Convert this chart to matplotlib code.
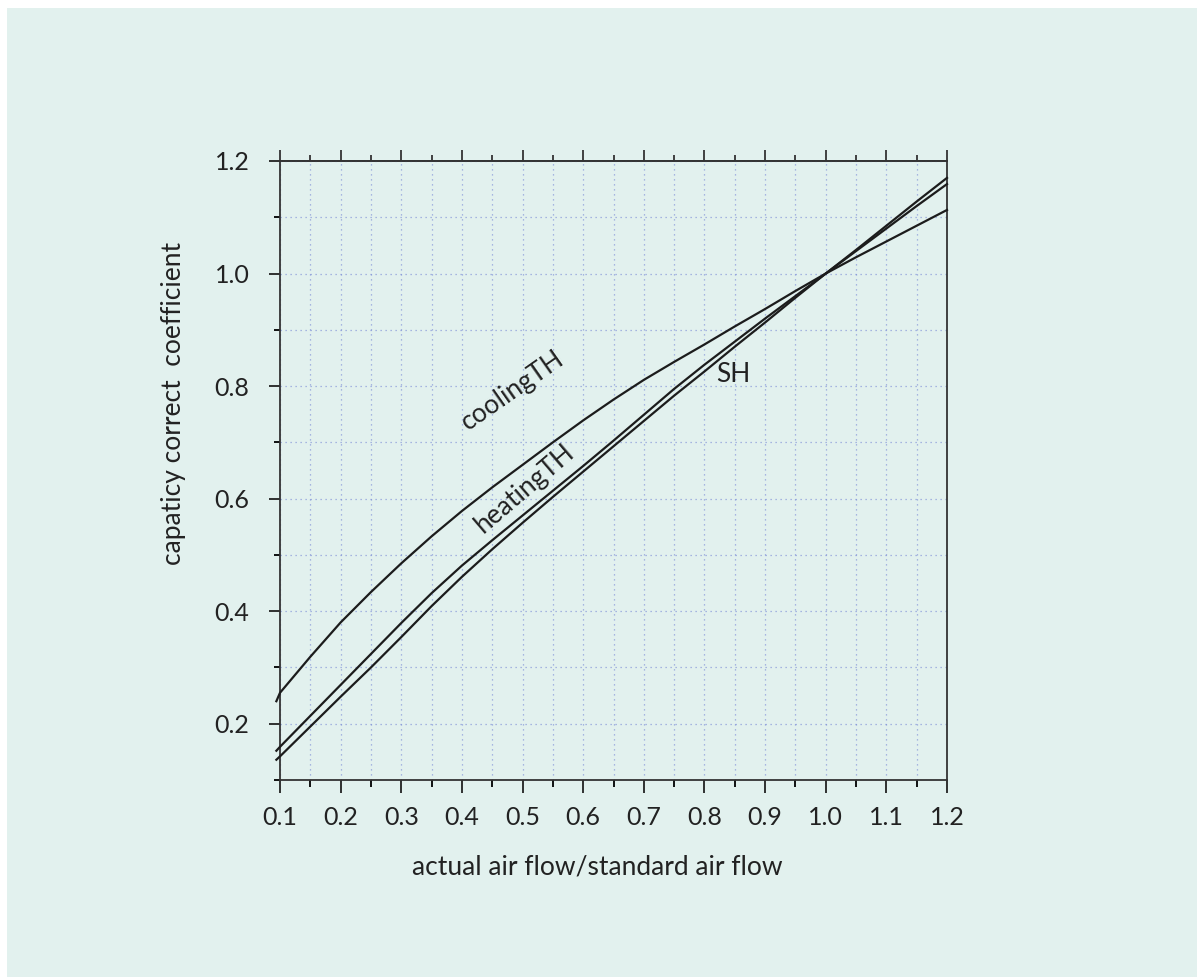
import numpy as np
import matplotlib as mpl
import matplotlib.pyplot as plt
from matplotlib.ticker import MultipleLocator

mpl.use("Agg")

# air flow ratio (actual / standard)
flow_ratio = [0.094, 0.10, 0.15, 0.20, 0.25, 0.30, 0.35, 0.40, 0.45, 0.50, 0.55, 0.60,
              0.65, 0.70, 0.75, 0.80, 0.85, 0.90, 0.95, 1.00, 1.05, 1.10, 1.15, 1.20]

# capacity correction coefficients
cooling_th = [0.240, 0.255, 0.319, 0.380, 0.434, 0.485, 0.533, 0.578, 0.620, 0.660, 0.700, 0.739,
              0.776, 0.811, 0.843, 0.874, 0.906, 0.937, 0.969, 1.000, 1.029, 1.057, 1.085, 1.113]
heating_th = [0.152, 0.159, 0.214, 0.269, 0.324, 0.379, 0.432, 0.481, 0.526, 0.570, 0.614, 0.658,
              0.703, 0.749, 0.795, 0.838, 0.879, 0.920, 0.960, 1.000, 1.040, 1.080, 1.120, 1.159]
sensible_h = [0.136, 0.142, 0.195, 0.248, 0.300, 0.354, 0.409, 0.461, 0.510, 0.557, 0.603, 0.648,
              0.693, 0.738, 0.783, 0.826, 0.870, 0.913, 0.957, 1.000, 1.042, 1.085, 1.128, 1.170]

x_ticks = [0.1, 0.2, 0.3, 0.4, 0.5, 0.6, 0.7, 0.8, 0.9, 1.0, 1.1, 1.2]
y_ticks = [0.2, 0.4, 0.6, 0.8, 1.0, 1.2]

bg = "#e2f1ee"
ink = "#222222"

plt.rcParams.update({"font.family": ["Lato", "DejaVu Sans"]})

fig = plt.figure(figsize=(11.97, 9.77), dpi=100)
fig.patch.set_facecolor("white")
fig.patches.append(
    mpl.patches.Rectangle(
        (7 / 1197, -0.05), 1.1, 1.05 - 8 / 977, transform=fig.transFigure,
        facecolor=bg, edgecolor="none", zorder=-5,
    )
)

ax = fig.add_axes([280 / 1197, 1 - 780 / 977, 667 / 1197, 619 / 977])
ax.set_facecolor(bg)

for series in (cooling_th, heating_th, sensible_h):
    ax.plot(flow_ratio, series, color="#1c1c1c", lw=1.6, clip_on=False, zorder=3,
            solid_joinstyle="round")

ax.set_xlim(0.1, 1.2)
ax.set_ylim(0.1, 1.2)

ax.set_xticks(x_ticks)
ax.set_xticklabels([f"{v:.1f}" for v in x_ticks])
ax.xaxis.set_minor_locator(MultipleLocator(0.05))
ax.set_yticks(y_ticks)
ax.set_yticklabels([f"{v:.1f}" for v in y_ticks])
ax.yaxis.set_minor_locator(MultipleLocator(0.1))

ax.tick_params(axis="x", which="major", direction="out", length=9.4, width=1.3,
               top=False, bottom=True, labelsize=18, pad=9, colors=ink)
ax.tick_params(axis="x", which="minor", direction="out", length=5, width=1.3,
               top=False, bottom=True)
ax.tick_params(axis="y", which="major", direction="out", length=8, width=1.3,
               left=True, right=False, labelsize=18, pad=14, colors=ink)
ax.tick_params(axis="y", which="minor", direction="out", length=4.3, width=1.3,
               left=True, right=False)

top = ax.secondary_xaxis("top")
top.set_xticks(x_ticks)
top.set_xticklabels([])
top.xaxis.set_minor_locator(MultipleLocator(0.05))
top.tick_params(which="major", direction="out", length=8, width=1.3, colors="#333333")
top.tick_params(which="minor", direction="out", length=4.3, width=1.3, colors="#333333")
top.spines["top"].set_linewidth(1.3)
top.spines["top"].set_color("#333333")

for side in ax.spines.values():
    side.set_linewidth(1.3)
    side.set_color("#333333")

ax.grid(which="both", axis="x", color="#7d8ed6", lw=0.9, ls=(0, (1, 3)), alpha=0.8)
ax.grid(which="both", axis="y", color="#7d8ed6", lw=0.9, ls=(0, (1, 3)), alpha=0.8)
ax.set_axisbelow(True)

ax.set_xlabel("actual air flow/standard air flow", fontsize=19, color=ink, va="top")
ax.xaxis.set_label_coords(0.475, -0.121)
ax.set_ylabel("capaticy correct  coefficient", fontsize=19, color=ink, va="center")
ax.yaxis.set_label_coords(-0.159, 0.609)

ax.text(0.483, 0.793, "coolingTH", rotation=35, fontsize=19, color=ink,
        ha="center", va="center", rotation_mode="anchor")
ax.text(0.503, 0.617, "heatingTH", rotation=40.6, fontsize=19, color=ink,
        ha="center", va="center", rotation_mode="anchor")
ax.text(0.847, 0.820, "SH", fontsize=19, color=ink, ha="center", va="center")

plt.savefig("out.png", dpi=100, facecolor=fig.get_facecolor())
plt.close()
